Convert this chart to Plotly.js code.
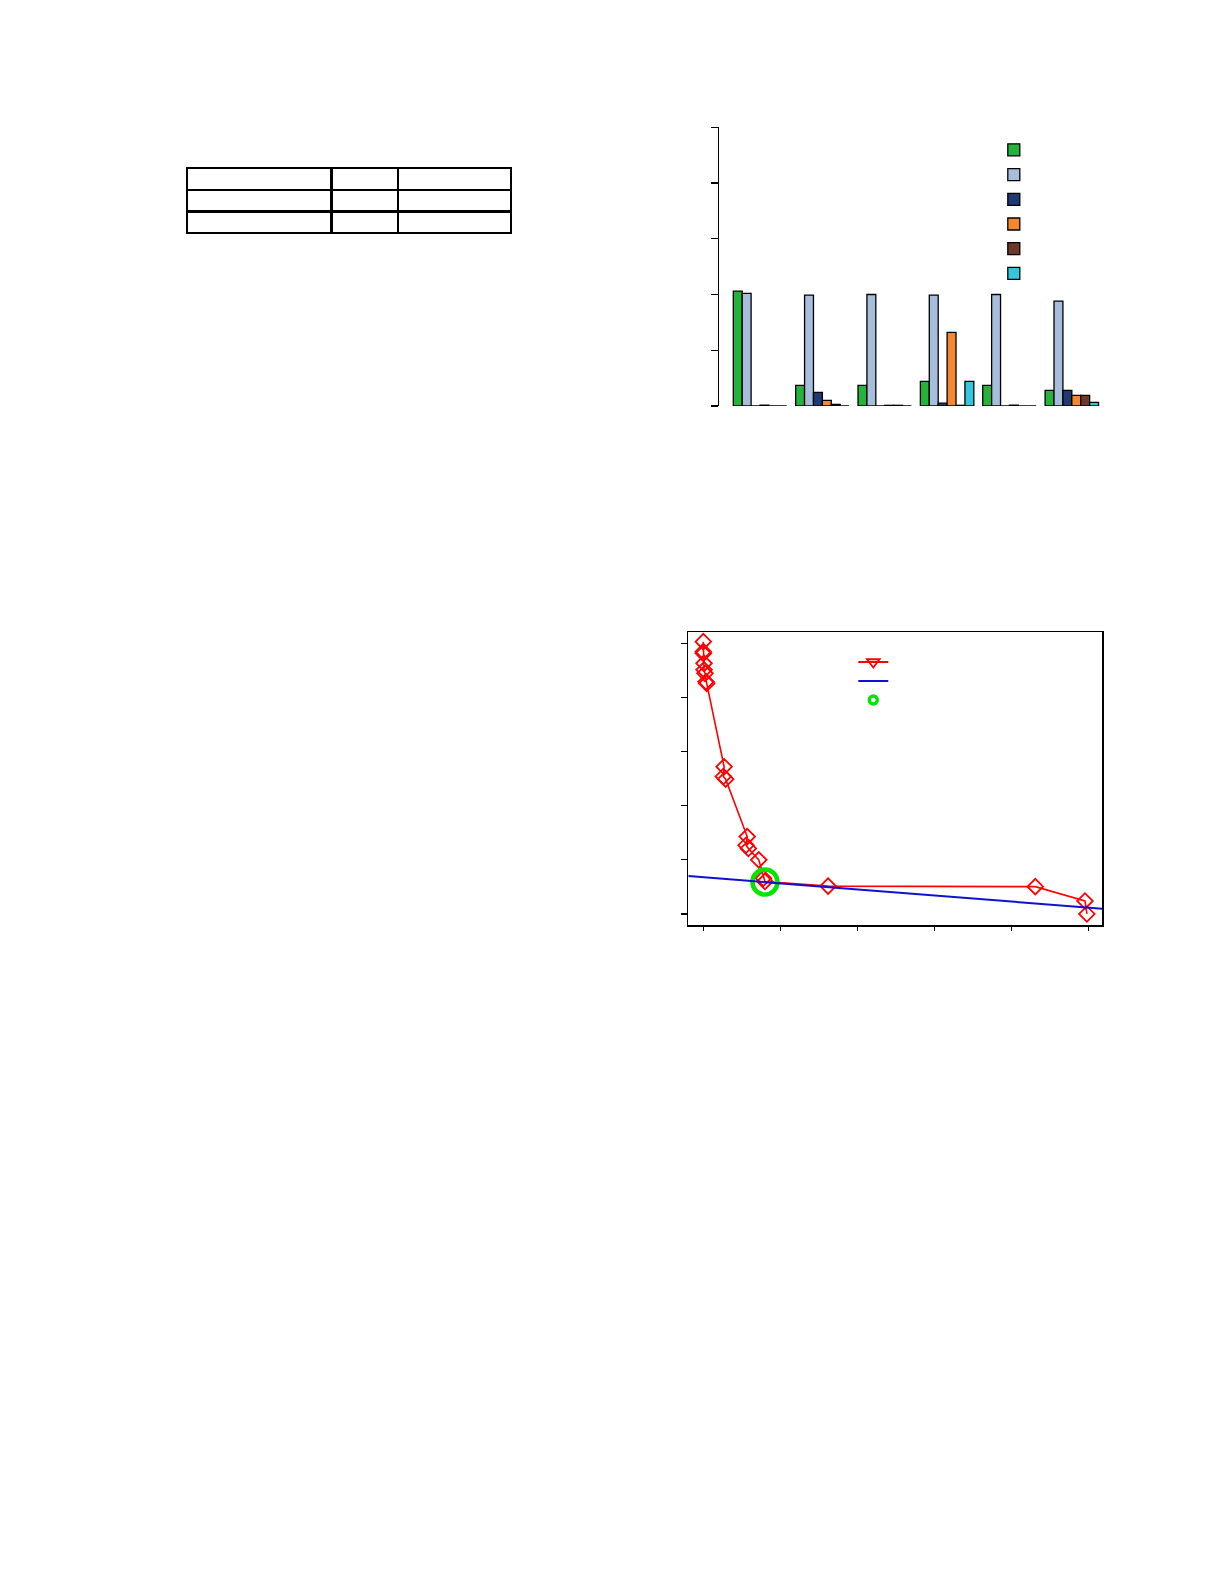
<!DOCTYPE html>
<html>
<head>
<meta charset="utf-8">
<script src="https://cdn.plot.ly/plotly-3.0.1.min.js"></script>
<style>
  html, body { margin: 0; padding: 0; background: #ffffff; }
  #chart { width: 1225px; height: 1585px; }
</style>
</head>
<body>
<div id="chart"></div>
<script>
// ---------- data ----------
// table (cells are empty in the reference)
const tableHeader = ['', '', ''];
const tableColumns = [['', ''], ['', ''], ['', '']];

// grouped bar chart
const barCategories = ['g1', 'g2', 'g3', 'g4', 'g5', 'g6'];
const seriesGreen = [2.06, 0.37, 0.37, 0.44, 0.37, 0.28];
const seriesLightBlue = [2.02, 1.99, 2.00, 1.99, 2.00, 1.88];
const seriesNavy = [0.0, 0.245, 0.0, 0.05, 0.0, 0.28];
const seriesOrange = [0.015, 0.10, 0.012, 1.32, 0.015, 0.19];
const seriesBrown = [0.0, 0.03, 0.012, 0.012, 0.0, 0.19];
const seriesCyan = [0.0, 0.0, 0.0, 0.44, 0.0, 0.065];

// curve chart
const curveX = [0.0, 0.0, 0.0, 0.009, 0.009, 0.022, 0.035, 0.044, 0.27, 0.26, 0.29, 0.57, 0.555, 0.585, 0.72, 0.78, 0.80, 1.62, 4.31, 4.955, 4.98];
const curveY = [5.03, 4.845, 4.815, 4.63, 4.51, 4.445, 4.29, 4.26, 2.72, 2.54, 2.49, 1.43, 1.27, 1.21, 1.0, 0.66, 0.60, 0.515, 0.505, 0.24, 0.0];
const fitX = [-0.195, 5.18];
const fitY = [0.70, 0.098];
const pickX = [0.80];
const pickY = [0.59];

// ---------- layout helpers (page pixels -> paper) ----------
const W = 1225, H = 1585;
const px = v => v / W;
const py = v => 1 - v / H;

const barColors = ['#26b33c', '#a6bddb', '#1f3a72', '#f5882f', '#6b3a2b', '#35c5dd'];
const barSeries = [seriesGreen, seriesLightBlue, seriesNavy, seriesOrange, seriesBrown, seriesCyan];

const traces = [];

traces.push({
  type: 'table',
  domain: { x: [px(187), px(511)], y: [py(234), py(168)] },
  columnwidth: [143, 66, 112],
  header: { values: tableHeader, height: 21.7, line: { color: '#000', width: 2.4 }, fill: { color: '#fff' } },
  cells: { values: tableColumns, height: 21.7, line: { color: '#000', width: 2.4 }, fill: { color: '#fff' } }
});

barSeries.forEach((vals, i) => {
  traces.push({
    type: 'bar',
    x: barCategories,
    y: vals,
    name: '',
    xaxis: 'x', yaxis: 'y',
    legend: 'legend',
    marker: { color: barColors[i], line: { color: '#000', width: 1.3 } },
    hoverinfo: 'skip'
  });
});

// curve with diamonds (plot)
traces.push({
  type: 'scatter', mode: 'lines+markers',
  x: curveX, y: curveY, name: '', showlegend: false,
  xaxis: 'x2', yaxis: 'y2',
  line: { color: '#ff0000', width: 1.6 },
  marker: { symbol: 'diamond-open', size: 12, color: '#ff0000', line: { width: 1.8 } },
  cliponaxis: true, hoverinfo: 'skip'
});
// selected point (plot)
traces.push({
  type: 'scatter', mode: 'markers',
  x: pickX, y: pickY, name: '', showlegend: false,
  xaxis: 'x2', yaxis: 'y2',
  marker: { symbol: 'circle-open', size: 25, color: '#00e600', line: { width: 4.5 } },
  cliponaxis: false, hoverinfo: 'skip'
});
// legend entry: curve
traces.push({
  type: 'scatter', mode: 'lines+markers',
  x: [null], y: [null], name: '',
  xaxis: 'x2', yaxis: 'y2', legend: 'legend2',
  line: { color: '#ff0000', width: 2.2 },
  marker: { symbol: 'triangle-down-open', size: 11, color: '#ff0000', line: { width: 1.8 } }
});
// fitted line (plot + legend)
traces.push({
  type: 'scatter', mode: 'lines',
  x: fitX, y: fitY, name: '',
  xaxis: 'x2', yaxis: 'y2', legend: 'legend2',
  line: { color: '#1010d0', width: 2 },
  cliponaxis: true, hoverinfo: 'skip'
});
// legend entry: selected point
traces.push({
  type: 'scatter', mode: 'markers',
  x: [null], y: [null], name: '',
  xaxis: 'x2', yaxis: 'y2', legend: 'legend2',
  marker: { symbol: 'circle-open', size: 8, color: '#00e600', line: { width: 3.4 } }
});

const layout = {
  width: W, height: H,
  margin: { l: 0, r: 0, t: 0, b: 0 },
  paper_bgcolor: '#fff', plot_bgcolor: 'rgba(0,0,0,0)',
  font: { family: 'Liberation Sans, Arial, sans-serif', color: '#000' },
  barmode: 'group', bargap: 1 / 7, bargroupgap: 0,
  xaxis: {
    domain: [px(719.3), px(1103)], anchor: 'y',
    type: 'category', range: [-0.653, 5.5],
    visible: false, fixedrange: true
  },
  yaxis: {
    domain: [py(406), py(127.3)], anchor: 'x',
    range: [0, 5], tickvals: [0, 1, 2, 3, 4, 5],
    showline: true, linecolor: '#000', linewidth: 1.2,
    ticks: 'outside', ticklen: 7.5, tickwidth: 1.2, tickcolor: '#000',
    showticklabels: false, showgrid: false, zeroline: false, fixedrange: true
  },
  xaxis2: {
    domain: [px(688.3), px(1102.3)], anchor: 'y2',
    range: [-0.195, 5.18], tickvals: [0, 1, 2, 3, 4, 5],
    showline: true, mirror: true, linecolor: '#000', linewidth: 1.3,
    ticks: 'outside', ticklen: 4, tickwidth: 1.2, tickcolor: '#000',
    showticklabels: false, showgrid: false, zeroline: false, fixedrange: true
  },
  yaxis2: {
    domain: [py(925.3), py(632.3)], anchor: 'x2',
    range: [-0.209, 5.203], tickvals: [0, 1, 2, 3, 4, 5],
    showline: true, mirror: true, linecolor: '#000', linewidth: 1.3,
    ticks: 'outside', ticklen: 6, tickwidth: 1.2, tickcolor: '#000',
    showticklabels: false, showgrid: false, zeroline: false, fixedrange: true
  },
  legend: {
    x: px(993.8), xanchor: 'left', y: py(132.5), yanchor: 'top',
    bgcolor: 'rgba(0,0,0,0)', borderwidth: 0,
    font: { size: 16.7 }, traceorder: 'normal'
  },
  legend2: {
    x: px(853.3), xanchor: 'left', y: py(647.5), yanchor: 'top',
    bgcolor: 'rgba(0,0,0,0)', borderwidth: 0,
    font: { size: 12 }, traceorder: 'normal'
  },
  showlegend: true
};

Plotly.newPlot('chart', traces, layout, { displayModeBar: false, staticPlot: true });
</script>
</body>
</html>
